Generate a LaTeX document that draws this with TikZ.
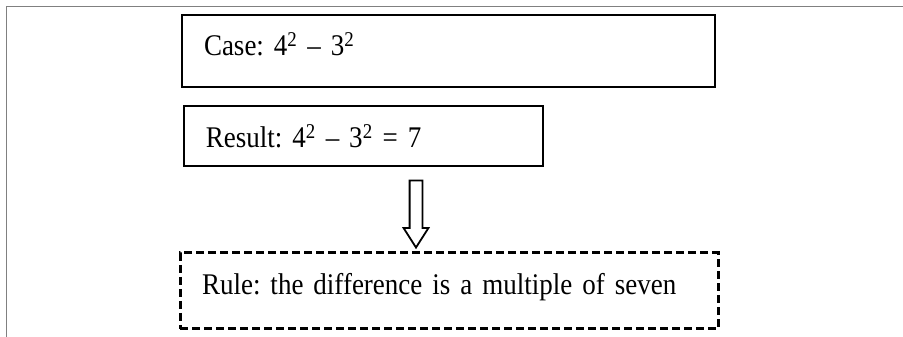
\documentclass[tikz,border=0pt]{standalone}
\usepackage{fontspec}
\setmainfont{Liberation Serif}[FakeStretch=0.9]
\usetikzlibrary{positioning,shapes.arrows}
\definecolor{framegray}{RGB}{128,128,128}
\frenchspacing

\begin{document}
\begin{tikzpicture}[x=1pt,y=1pt,
    font=\fontsize{30}{35}\selectfont,
    casebox/.style={draw,line width=2.4pt,inner xsep=22pt,text width=489pt,
                    minimum height=72pt,align=left},
    resbox/.style={draw,line width=2pt,inner xsep=22pt,text width=315pt,
                   minimum height=60pt,align=left},
    rulebox/.style={draw,line width=3pt,dash pattern=on 8pt off 4pt,
                    inner xsep=22pt,text width=494pt,minimum height=76pt,align=left},
    blockarrow/.style={single arrow,draw,line width=1.8pt,shape border rotate=270,
                       inner sep=5.5pt,minimum height=67pt,
                       single arrow head extend=6pt,single arrow tip angle=65},
]
\useasboundingbox (0,0) rectangle (903,337);
% page frame (left and top edge only)
\draw[framegray,line width=1.8pt] (6.5,0) -- (6.5,330.5) -- (903,330.5);

% --- boxes ---
\node[casebox,text depth=14pt] (case) at (448.5,286)
     {Case: 4\textsuperscript{2} – 3\textsuperscript{2}};
\node[resbox,below right=17pt and 2pt of case.south west] (res)
     {Result: 4\textsuperscript{2} – 3\textsuperscript{2} = 7};
\node[rulebox,text depth=14pt] (rule) at (449,46)
     {Rule: the difference is a multiple of seven};

% hollow arrow from result down to rule
\node[blockarrow] (arw) at (416,128) {};
\end{tikzpicture}
\end{document}
